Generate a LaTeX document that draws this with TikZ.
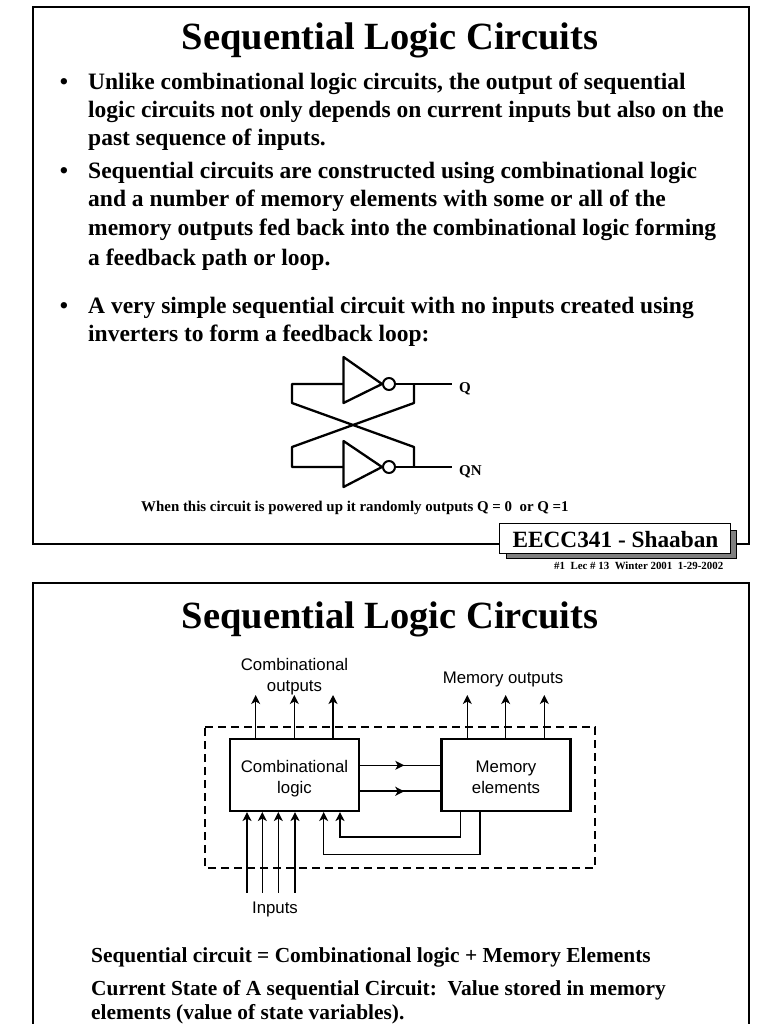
\documentclass[tikz,border=0pt]{standalone}
\usepackage{fontspec}
\setmainfont{Liberation Serif}
\newfontfamily\helv{Liberation Sans}
\usetikzlibrary{arrows.meta,decorations.markings,calc}
\tikzset{
  title/.style={anchor=base,inner sep=0pt,font=\fontsize{38.5}{38.5}\selectfont\bfseries},
  bodyline/.style={anchor=base west,inner sep=0pt,font=\fontsize{23.5}{28}\selectfont\bfseries},
  lowline/.style={anchor=base west,inner sep=0pt,font=\fontsize{21.4}{26}\selectfont\bfseries},
  smallb/.style={anchor=base west,inner sep=0pt,font=\fontsize{14.9}{15}\selectfont\bfseries},
  sigl/.style={anchor=base west,inner sep=0pt,font=\fontsize{15}{15}\selectfont\bfseries},
  sanslabel/.style={anchor=base,inner sep=0pt,font=\helv\fontsize{16.8}{16.8}\selectfont,text=black},
  frame/.style={draw=black,line width=2.4pt},
  wire/.style={draw=black,line width=2.3pt,line join=round},
  thinwire/.style={draw=black,line width=1.3pt},
  arr/.style={draw=black,line width=1.3pt,-{Stealth[length=9pt,width=9pt,inset=2.5pt]}},
  block/.style={draw=black,line width=2.1pt,fill=white,minimum width=129pt,minimum height=72pt,inner sep=0pt},
  bubble/.style={circle,draw=black,line width=2pt,fill=white,minimum size=12pt,inner sep=0pt},
  midarr/.style={postaction={decorate},decoration={markings,mark=at position 0.55 with {\arrow{Stealth[length=9pt,width=9pt,inset=2.5pt]}}}},
}
\begin{document}
\begin{tikzpicture}[x=1pt,y=-1pt]
\useasboundingbox (0,0) rectangle (768,1024);
\clip (0,0) rectangle (768,1024);
\fill[white] (0,0) rectangle (768,1024);

% first slide
\draw[frame] (33,7) rectangle (749,544);
\node[title] (t1) at (390,49.5) {Sequential Logic Circuits};
\foreach \n/\y in {a/90,b/179,c/313}{\node[bodyline,anchor=base] (bul\n) at (64,\y) {•};}
\node[bodyline] (l1) at (88,90) {Unlike combinational logic circuits, the output of sequential};
\node[bodyline] (l2) at (88,118) {logic circuits not only depends on current inputs but also on the};
\node[bodyline] (l3) at (88,146) {past sequence of inputs.};
\node[bodyline] (l4) at (88,179) {Sequential circuits are constructed using combinational logic};
\node[bodyline] (l5) at (88,207) {and a number of memory elements with some or all of the};
\node[bodyline] (l6) at (88,236) {memory outputs fed back into the combinational logic forming};
\node[bodyline] (l7) at (88,265) {a feedback path or loop.};
\node[bodyline] (l8) at (88,313) {A very simple sequential circuit with no inputs created using};
\node[bodyline] (l9) at (88,341) {inverters to form a feedback loop:};

% inverter loop
\coordinate (tw) at (343.5,384);
\coordinate (bw) at (343.5,467);
\coordinate (lt) at (292,384);
\coordinate (lt2) at (292,403);
\coordinate (lb) at (292,467);
\coordinate (lb2) at (292,447);
\coordinate (rt) at (414,384);
\coordinate (rt2) at (414,403);
\coordinate (rb) at (414,467);
\coordinate (rb2) at (414,447);
\node[bubble] (bt) at (389,384) {};
\node[bubble] (bb) at (389,467) {};
\node[sigl] (q) at (459,392) {Q};
\node[sigl] (qn) at (459,475) {QN};
\draw[wire] (343.5,357) -- (343.5,403) -- (bt.west) -- cycle;
\draw[wire] (343.5,441) -- (343.5,487) -- (bb.west) -- cycle;
\draw[wire] (tw) -- (lt) -- (lt2) -- (rb2) -- (rb);
\draw[wire] (bw) -- (lb) -- (lb2) -- (rt2) -- (rt);
\draw[draw=black,line width=2.8pt] (bt.east) -- (452,384);
\draw[wire] (bb.east) -- (452,467);
\node[smallb] (note) at (141,511) {When this circuit is powered up it randomly outputs Q = 0\ \ or Q =1};

% footer label
\fill[black!50,draw=black] (506,530) rectangle (736,558);
\node[draw=black,line width=0.9pt,fill=white,minimum width=231pt,minimum height=30pt,inner sep=0pt] (tag) at (614.5,538) {};
\node[anchor=base,inner sep=0pt,font=\fontsize{23.3}{23}\selectfont\bfseries] (tagt) at (615.5,547) {EECC341 - Shaaban};
\node[anchor=base west,inner sep=0pt,font=\fontsize{10.9}{11}\selectfont\bfseries] (foot) at (554,569) {\#1\ \ Lec \# 13\ \ Winter 2001\ \ 1-29-2002};

% second slide
\draw[frame] (33,583) rectangle (749,1040);
\node[title] (t2) at (390,628.5) {Sequential Logic Circuits};

\draw[black,line width=1.4pt,dash pattern=on 8pt off 5pt] (205,727) -- (595,727) -- (595,868) -- (205,868) -- cycle;
\node[block] (comb) at (294.5,775) {};
\node[block] (mem) at (506,775) {};
\node[sanslabel] (cl1) at (294.5,772) {Combinational};
\node[sanslabel] (cl2) at (294.5,793) {logic};
\node[sanslabel] (ml1) at (506,772) {Memory};
\node[sanslabel] (ml2) at (506,793) {elements};
\node[sanslabel] (co1) at (294.5,670) {Combinational};
\node[sanslabel] (co2) at (294.5,691) {outputs};
\node[sanslabel] (mo) at (503,683) {Memory outputs};
\node[sanslabel] (inp) at (275,913) {Inputs};

\foreach \n/\x in {o1/255.7,o2/294.3,o3/333}{
  \coordinate (\n) at (\x,695);
  \draw[arr] (\n |- comb.north) -- (\n);
}
\foreach \n/\x in {m1/467.3,m2/505.7,m3/544.3}{
  \coordinate (\n) at (\x,695);
  \draw[arr] (\n |- mem.north) -- (\n);
}
\coordinate (h1) at (400,765.3);
\coordinate (h2) at (400,791.3);
\draw[thinwire,midarr] (comb.east |- h1) -- (mem.west |- h1);
\draw[draw=black,line width=1.9pt,midarr] (comb.east |- h2) -- (mem.west |- h2);
\foreach \n/\x/\w in {i1/247/1.2,i2/262.3/1.2,i3/278.3/1.2,i4/295/1.9}{
  \coordinate (\n) at (\x,892.7);
  \draw[arr,line width=\w pt] (\n) -- (\n |- comb.south);
}
\coordinate (f1) at (340,837);
\coordinate (f2) at (460.7,837);
\coordinate (g1) at (323.7,854.3);
\coordinate (g2) at (480,854.3);
\draw[draw=black,line width=1.5pt,line join=miter,-{Stealth[length=9pt,width=9pt,inset=2.5pt]}] (f2 |- mem.south) -- (f2) -- (f1) -- (f1 |- comb.south);
\draw[draw=black,line width=1.5pt,line join=miter,-{Stealth[length=9pt,width=9pt,inset=2.5pt]}] (g2 |- mem.south) -- (g2) -- (g1) -- (g1 |- comb.south);

\node[lowline] (s1) at (91,962) {Sequential circuit = Combinational logic + Memory Elements};
\node[lowline] (s2) at (91,995) {Current State of A sequential Circuit:\ \ Value stored in memory};
\node[lowline] (s3) at (91,1019.4) {elements (value of state variables).};
\end{tikzpicture}
\end{document}
